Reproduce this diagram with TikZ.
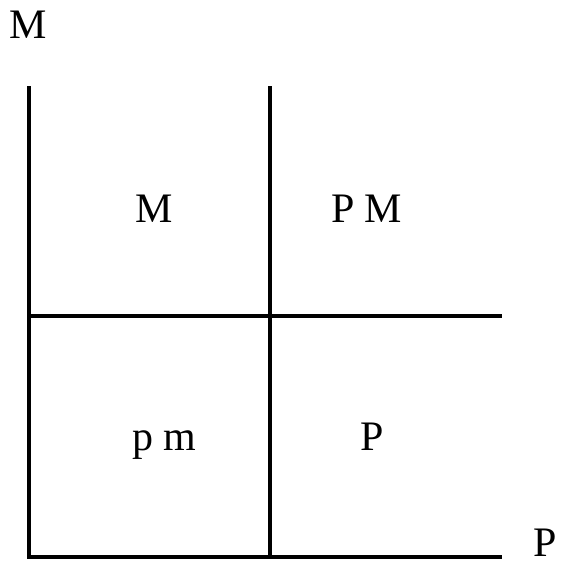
\documentclass[tikz,border=0pt]{standalone}
\usepackage{fontspec}
\setmainfont{Liberation Serif}
\usepackage{tikz}
\usetikzlibrary{positioning}

\tikzset{
  axis/.style={line width=1.8pt, line cap=rect},
  region/.style={anchor=base, inner sep=0pt, font=\fontsize{21}{25}\selectfont},
}

\begin{document}
\begin{tikzpicture}[x=0.5pt, y=-0.5pt]
  \useasboundingbox (0,0) rectangle (562,562);

  % Corners of the grid
  \coordinate (topL) at (29,88);
  \coordinate (topM) at (270,88);
  \coordinate (origin) at (29,557);
  \coordinate (botM) at (270,557);
  \coordinate (midL) at (29,316);
  \coordinate (midR) at (500,316);
  \coordinate (botR) at (500,557);

  % Axes and dividers
  \draw[axis] (topL) -- (origin) -- (botR);
  \draw[axis] (topM) -- (botM);
  \draw[axis] (midL) -- (midR);

  % Axis labels
  \node[region] (ylab) at (28.5,39) {M};
  \node[region] (xlab) at (545,556) {P};

  % Quadrants
  \node[region] (qM) at (154,222) {M};
  \node[region] (qPM) at (366.5,222) {P\hspace{5pt}M};
  \node[region] (qpm) at (164,450) {p\hspace{5pt}m};
  \node[region] (qP) at (372,450) {P};
\end{tikzpicture}
\end{document}
